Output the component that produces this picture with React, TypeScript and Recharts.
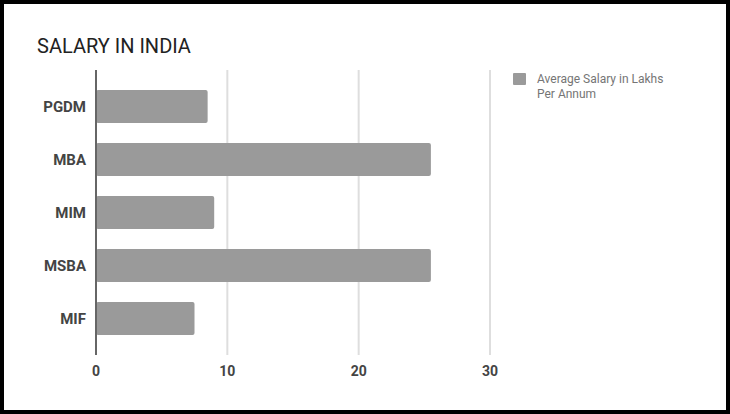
import React from 'react';
import { BarChart, Bar, XAxis, YAxis, CartesianGrid } from 'recharts';

const categories = ['PGDM', 'MBA', 'MIM', 'MSBA', 'MIF'];
const salaries = [8.5, 25.5, 9, 25.5, 7.5];
const xTicks = [0, 10, 20, 30];

const SERIES_NAME = 'Average Salary in Lakhs Per Annum';
const BAR_COLOR = '#9a9a9a';
const FONT = 'Roboto, "Noto Sans", Arial, sans-serif';

const data = categories.map((name, i) => ({ name, value: salaries[i] }));

// legend drawn outside the chart so it does not shrink the plot area
const LegendBox = () => (
  <div
    style={{
      position: 'absolute',
      left: 509,
      top: 68,
      display: 'flex',
      alignItems: 'flex-start',
      fontFamily: FONT,
    }}
  >
    <div style={{ width: 13, height: 12, background: BAR_COLOR, marginTop: 1, borderRadius: 1 }} />
    <div style={{ marginLeft: 11, fontSize: 12, lineHeight: '15px', color: '#757575' }}>
      Average Salary in Lakhs
      <br />
      Per Annum
    </div>
  </div>
);

const App = () => {
  return (
    <div
      style={{
        position: 'absolute',
        top: 0,
        left: 0,
        width: 730,
        height: 414,
        boxSizing: 'border-box',
        border: '4px solid #000',
        background: '#fff',
      }}
    >
      <div
        style={{
          position: 'absolute',
          left: 33,
          top: 30,
          fontFamily: FONT,
          fontSize: 20,
          color: '#222',
        }}
      >
        SALARY IN INDIA
      </div>
      <LegendBox />
      <BarChart
        width={722}
        height={406}
        data={data}
        layout="vertical"
        margin={{ top: 66, right: 236, left: 0, bottom: 25 }}
      >
        <CartesianGrid horizontal={false} stroke="#dedede" strokeWidth={2} />
        <XAxis
          type="number"
          domain={[0, 30]}
          ticks={xTicks}
          axisLine={false}
          tickLine={false}
          height={30}
          tickMargin={5}
          tick={{ fill: '#444', fontSize: 14, fontWeight: 700, fontFamily: FONT }}
        />
        <YAxis
          type="category"
          dataKey="name"
          width={92}
          padding={{ top: 10, bottom: 10 }}
          axisLine={{ stroke: '#666', strokeWidth: 2 }}
          tickLine={false}
          tickMargin={4}
          tick={{ fill: '#444', fontSize: 15, fontWeight: 700, fontFamily: FONT }}
        />
        <Bar
          dataKey="value"
          name={SERIES_NAME}
          fill={BAR_COLOR}
          barSize={33}
          radius={2}
          isAnimationActive={false}
        />
      </BarChart>
    </div>
  );
};

export default App;
